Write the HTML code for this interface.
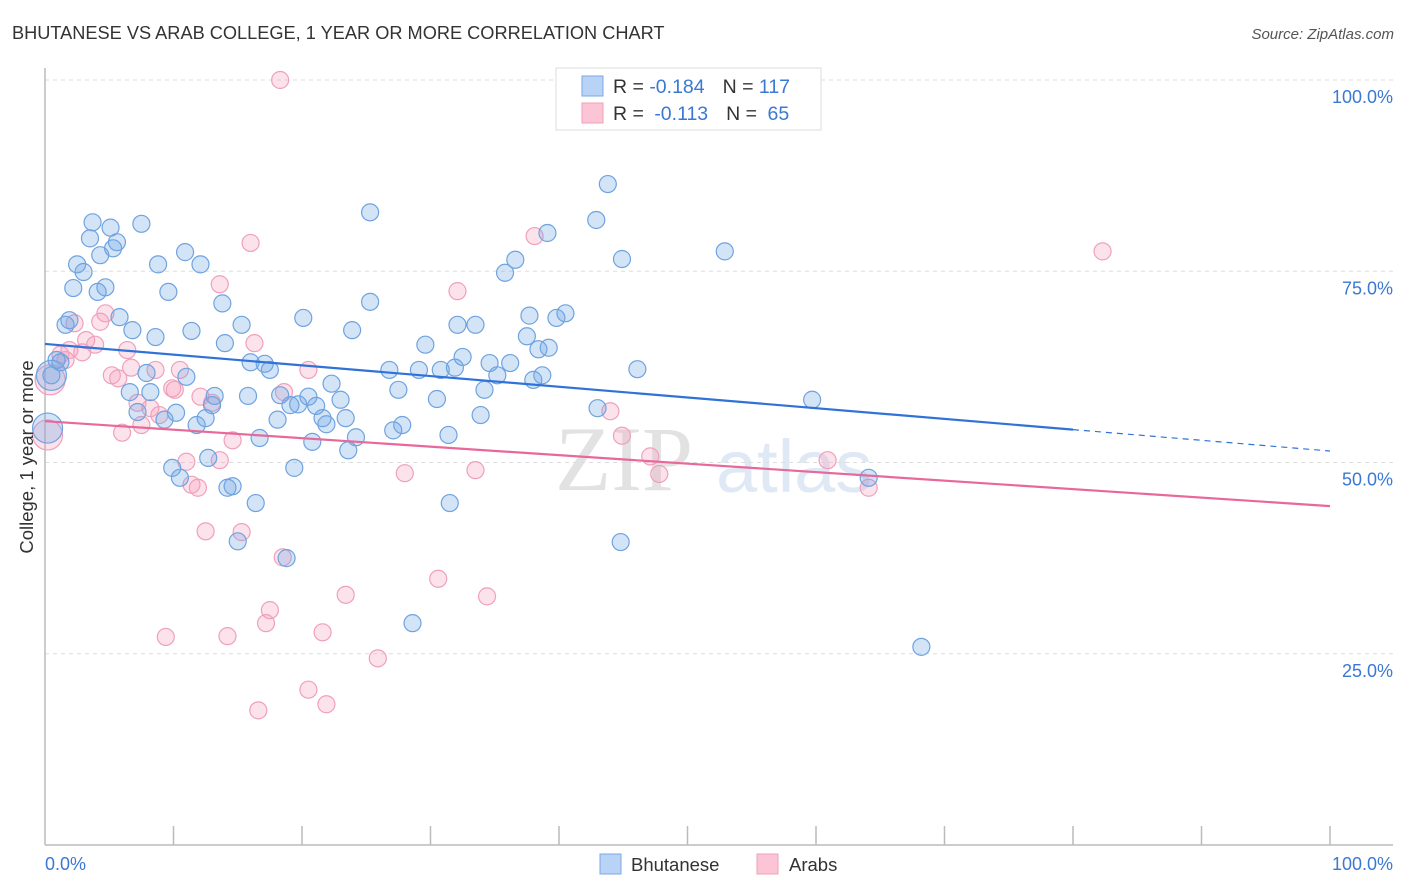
<!DOCTYPE html>
<html><head><meta charset="utf-8"><style>
body{margin:0;background:#fff;font-family:"Liberation Sans",sans-serif;}
svg{display:block}
</style></head><body>
<svg id="chart" width="1406" height="892" xmlns="http://www.w3.org/2000/svg" font-family="Liberation Sans, sans-serif">
<text x="12" y="39" font-size="18.2" fill="#333">BHUTANESE VS ARAB COLLEGE, 1 YEAR OR MORE CORRELATION CHART</text>
<text x="1394" y="39" font-size="15" fill="#555" font-style="italic" text-anchor="end">Source: ZipAtlas.com</text>
<g>
<text x="555" y="490" font-size="92" fill="#e2e2e2" font-family="Liberation Serif, serif">ZIP</text>
<text x="716" y="492" font-size="74" fill="#dfe8f5">atlas</text>
</g>
<g id="grid"></g>
<g id="axes"></g>
<g id="marks"></g>
<text transform="translate(33,457) rotate(-90)" font-size="18.5" fill="#333" text-anchor="middle">College, 1 year or more</text>
<g>
<rect x="556" y="68" width="265" height="62" fill="#fff" stroke="#ddd"/>
<rect x="582" y="76" width="21" height="20" fill="#b8d3f5" stroke="#7aaae6"/>
<rect x="582" y="103" width="21" height="20" fill="#fcc5d6" stroke="#f0a0bb"/>
<text x="613" y="93" font-size="19.5" fill="#333">R = <tspan fill="#3a78d4">-0.184</tspan><tspan dx="18">N = </tspan><tspan fill="#3a78d4">117</tspan></text>
<text x="613" y="120" font-size="19.5" fill="#333">R = <tspan fill="#3a78d4" dx="5">-0.113</tspan><tspan dx="18">N = </tspan><tspan fill="#3a78d4" dx="5">65</tspan></text>
</g>
<g>
<rect x="600" y="854" width="21" height="20" fill="#b8d3f5" stroke="#7aaae6"/>
<text x="631" y="871" font-size="18.5" fill="#333">Bhutanese</text>
<rect x="757" y="854" width="21" height="20" fill="#fcc5d6" stroke="#f0a0bb"/>
<text x="789" y="871" font-size="18.5" fill="#333">Arabs</text>
</g>
</svg>
<script>
const blueX=[0.5,0.9,1.2,1.6,1.9,2.2,2.5,3.0,3.5,3.7,4.1,4.3,4.7,5.1,5.3,5.6,5.8,6.6,6.8,7.2,7.5,7.9,8.2,8.6,8.8,9.3,9.6,9.9,10.2,10.5,10.9,11.0,11.4,11.8,12.1,12.5,12.7,13.0,13.2,13.8,14.0,14.2,14.6,15.0,15.3,15.8,16.0,16.4,16.7,17.1,17.5,18.1,18.3,18.8,19.1,19.4,19.7,20.1,20.5,20.8,21.1,21.6,21.9,22.3,23.0,23.4,23.9,24.2,23.6,25.3,25.3,26.8,27.1,27.5,27.8,28.6,29.1,29.6,30.5,30.8,31.4,31.5,31.9,32.1,32.5,33.5,33.9,34.2,34.6,35.2,35.8,36.2,36.6,37.5,37.7,38.0,38.4,38.7,39.1,39.2,39.8,40.5,42.9,43.0,43.8,44.8,44.9,46.1,52.9,59.7,64.1,68.2];
const blueY=[61.4,63.4,63.1,68.0,68.6,72.8,75.9,74.9,79.3,81.4,72.3,77.1,72.9,80.7,78.0,78.8,69.0,59.2,67.3,56.6,81.2,61.7,59.2,66.4,75.9,55.6,72.3,49.3,56.5,48.0,77.5,61.2,67.2,54.9,75.9,55.8,50.6,57.5,58.7,70.8,65.6,46.7,46.9,39.7,68.0,58.7,63.1,44.7,53.2,62.9,62.1,55.6,58.8,37.5,57.5,49.3,57.6,68.9,58.6,52.7,57.4,55.8,55.0,60.3,58.2,55.8,67.3,53.3,51.6,82.7,71.0,62.1,54.2,59.5,54.9,29.0,62.1,65.4,58.3,62.1,53.6,44.7,62.4,68.0,63.8,68.0,56.2,59.5,63.0,61.4,74.8,63.0,76.5,66.5,69.2,60.8,64.8,61.4,80.0,65.0,68.9,69.5,81.7,57.1,86.4,39.6,76.6,62.2,77.6,58.2,48.0,25.9];
const blueBigX=[0.2,0.5];
const blueBigY=[54.5,61.4];
const pinkX=[1.2,1.6,1.9,2.3,2.9,3.2,3.9,4.3,4.7,5.2,5.7,6.0,6.4,6.7,7.2,7.5,8.2,8.6,8.9,9.4,9.9,10.1,10.5,11.0,11.4,11.9,12.1,12.5,13.0,13.6,13.6,14.2,14.6,15.3,16.0,16.3,16.6,17.2,17.5,18.3,18.5,18.6,20.5,20.5,21.6,21.9,23.4,25.9,28.0,30.6,32.1,33.5,34.4,38.1,44.0,44.9,47.1,47.8,60.9,64.1,82.3];
const pinkY=[64.1,63.4,64.7,68.2,64.4,66.0,65.4,68.4,69.5,61.4,61.0,53.9,64.7,62.4,57.8,54.9,57.1,62.1,56.2,27.2,59.7,59.5,62.1,50.1,47.1,46.7,58.6,41.0,57.8,50.3,73.3,27.3,52.9,40.9,78.7,65.6,17.6,29.0,30.7,100,37.6,59.2,62.1,20.3,27.8,18.4,32.7,24.4,48.6,34.8,72.4,49.0,32.5,79.6,56.7,53.5,50.8,48.5,50.3,46.7,77.6];
const pinkBigX=[0.4,0.2];
const pinkBigY=[60.8,53.6];
const blueTrend=[65.5,51.5];
const pinkTrend=[55.4,44.3];
const yTicks=[25,50,75,100];
const yTickLabels=["25.0%","50.0%","75.0%","100.0%"];
const xTicks=[10,20,30,40,50,60,70,80,90,100];

const NS="http://www.w3.org/2000/svg";
const sx=v=>45+v*12.85;
const sy=v=>845-v*7.65;
function mk(tag,attrs,parent){const e=document.createElementNS(NS,tag);for(const k in attrs)e.setAttribute(k,attrs[k]);parent.appendChild(e);return e;}
const grid=document.getElementById('grid'),axes=document.getElementById('axes'),marks=document.getElementById('marks');
yTicks.forEach((t,i)=>{
 const l=mk('line',{x1:45,x2:1393,y1:sy(t),y2:sy(t),stroke:'#ddd','stroke-dasharray':'4,4'},grid);
 
 
 const tx=mk('text',{x:1393,y:sy(t)+23,'font-size':18,fill:'#3a78d4','text-anchor':'end'},axes);
 tx.textContent=yTickLabels[i];
 
 
});
let a=mk('line',{x1:45,x2:45,y1:68,y2:845,stroke:'#bbb','stroke-width':1.5},axes);


a=mk('line',{x1:45,x2:1393,y1:845,y2:845,stroke:'#bbb','stroke-width':1.5},axes);


xTicks.forEach(t=>{
 const l=mk('line',{x1:sx(t),x2:sx(t),y1:826,y2:845,stroke:'#bbb','stroke-width':1.5},axes);
 
 
});
let xl=mk('text',{x:45,y:870,'font-size':18,fill:'#3a78d4'},axes);xl.textContent='0.0%';


xl=mk('text',{x:1393,y:870,'font-size':18,fill:'#3a78d4','text-anchor':'end'},axes);xl.textContent='100.0%';



function dots(X,Y,r,fill,stroke,name){X.forEach((x,i)=>{
 const c=mk('circle',{cx:sx(x),cy:sy(Y[i]),r:r,fill:fill,stroke:stroke,'stroke-width':1.2},marks);
 
 
});}
dots(pinkX,pinkY,8.5,'rgba(244,160,188,0.3)','#f0a0bb','arab-point');
dots(pinkBigX,pinkBigY,15,'rgba(244,160,188,0.3)','#f0a0bb','arab-point');
dots(blueX,blueY,8.5,'rgba(110,165,230,0.3)','#6fa3e0','bhutanese-point');
dots(blueBigX,blueBigY,15,'rgba(110,165,230,0.3)','#6fa3e0','bhutanese-point');
const bAt=x=>blueTrend[0]+(blueTrend[1]-blueTrend[0])*x/100;
let t=mk('line',{x1:sx(0),y1:sy(bAt(0)),x2:sx(80),y2:sy(bAt(80)),stroke:'#2f72d8','stroke-width':2.2},marks);


t=mk('line',{x1:sx(80),y1:sy(bAt(80)),x2:sx(100),y2:sy(bAt(100)),stroke:'#2f72d8','stroke-width':1.2,'stroke-dasharray':'6,5'},marks);


t=mk('line',{x1:sx(0),y1:sy(pinkTrend[0]),x2:sx(100),y2:sy(pinkTrend[1]),stroke:'#e8689a','stroke-width':2.2},marks);


</script>
</body></html>
